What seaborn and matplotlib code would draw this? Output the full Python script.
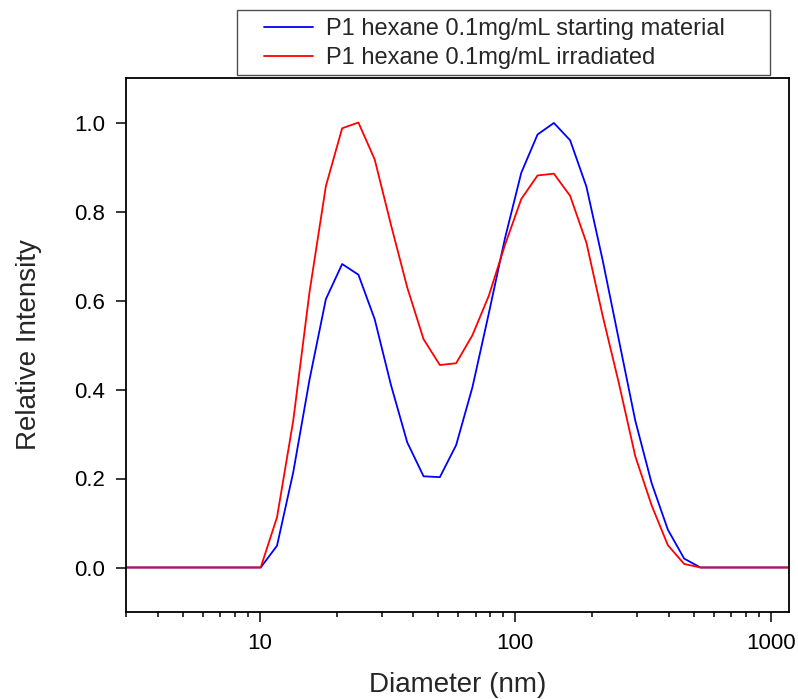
import matplotlib
matplotlib.use("Agg")
import matplotlib.pyplot as plt
import matplotlib.ticker as mticker
from matplotlib.patches import Rectangle
import numpy as np
import pandas as pd
import seaborn as sns

# Size bins (nm) of the DLS intensity distribution
diameter = [2.696, 3.122, 3.615, 4.187, 4.849, 5.615, 6.503, 7.531, 8.721,
            10.10, 11.70, 13.54, 15.69, 18.17, 21.04, 24.36, 28.21, 32.67,
            37.84, 43.82, 50.75, 58.77, 68.06, 78.82, 91.28, 105.7, 122.4,
            141.8, 164.2, 190.1, 220.2, 255.0, 295.3, 342.0, 396.1, 458.7,
            531.2, 615.1, 712.4, 825.0, 955.4, 1106.0, 1281.0]

starting_material = [0, 0, 0, 0, 0, 0, 0, 0, 0,
                     0, 0.049, 0.214, 0.423, 0.603, 0.682, 0.658, 0.558, 0.41,
                     0.281, 0.205, 0.203, 0.275, 0.405, 0.57, 0.74, 0.887, 0.973,
                     0.999, 0.960, 0.856, 0.69, 0.51, 0.33, 0.19, 0.085, 0.02,
                     0, 0, 0, 0, 0, 0, 0]

irradiated = [0, 0, 0, 0, 0, 0, 0, 0, 0,
              0, 0.113, 0.33, 0.62, 0.857, 0.987, 1.0, 0.917, 0.77,
              0.629, 0.513, 0.455, 0.459, 0.522, 0.61, 0.725, 0.828, 0.881,
              0.885, 0.835, 0.730, 0.565, 0.413, 0.25, 0.14, 0.05, 0.008,
              0, 0, 0, 0, 0, 0, 0]

series_names = ["P1 hexane 0.1mg/mL starting material",
                "P1 hexane 0.1mg/mL irradiated"]
series_colors = ["#0000FF", "#FF0000"]

y_ticks = [0.0, 0.2, 0.4, 0.6, 0.8, 1.0]
x_ticks = [10, 100, 1000]

df = pd.concat([
    pd.DataFrame({"Diameter": diameter, "Intensity": starting_material,
                  "Sample": series_names[0]}),
    pd.DataFrame({"Diameter": diameter, "Intensity": irradiated,
                  "Sample": series_names[1]}),
], ignore_index=True)

sns.set_theme(style="ticks")
plt.rcParams["font.family"] = ["Liberation Sans", "DejaVu Sans"]

W, H = 798, 699
fig = plt.figure(figsize=(W / 100, H / 100), dpi=100)
ax = fig.add_axes([126 / W, 1 - 612 / H, (789 - 126) / W, (612 - 78) / H])

sns.lineplot(data=df, x="Diameter", y="Intensity", hue="Sample",
             palette=dict(zip(series_names, series_colors)),
             estimator=None, sort=False, linewidth=1.3, ax=ax, legend=False)

ax.set_xscale("log")
ax.set_xlim(3, 1180)
ax.set_ylim(-0.1, 1.1)
ax.set_yticks(y_ticks)
ax.yaxis.set_major_formatter(mticker.FormatStrFormatter("%.1f"))
ax.set_xticks(x_ticks)
ax.xaxis.set_major_formatter(mticker.FormatStrFormatter("%d"))
ax.xaxis.set_minor_locator(mticker.LogLocator(base=10, subs=np.arange(2, 10)))
ax.xaxis.set_minor_formatter(mticker.NullFormatter())
ax.yaxis.set_minor_locator(mticker.NullLocator())

ax.tick_params(axis="both", which="major", direction="out", length=7,
               width=1.1, labelsize=16, colors="black", pad=8)
ax.tick_params(axis="x", which="minor", direction="out", length=3.8,
               width=1.1, colors="black")
for side in ["left", "right", "top", "bottom"]:
    ax.spines[side].set_visible(True)
    ax.spines[side].set_linewidth(1.3)
    ax.spines[side].set_color("black")

ax.set_xlabel("Diameter (nm)", fontsize=20, labelpad=13)
ax.set_ylabel("Relative Intensity", fontsize=20, labelpad=23)

# Legend entries, with a plain box drawn around them
fs = 17
handles = [plt.Line2D([], [], color=c, linewidth=1.3) for c in series_colors]
leg = fig.legend(handles, series_names, loc="upper left",
                 bbox_to_anchor=(258 / W, 1 - 12 / H), fontsize=fs,
                 frameon=False, handlelength=2.1, handletextpad=0.55,
                 borderpad=0.25, labelspacing=0.3, borderaxespad=0)
fig.patches.append(Rectangle((237 / W, 1 - 75 / H), (770 - 237) / W,
                             (75 - 10) / H, transform=fig.transFigure,
                             facecolor="none", edgecolor="#505050",
                             linewidth=1.0))

fig.savefig("out.png", dpi=100, facecolor="white")
